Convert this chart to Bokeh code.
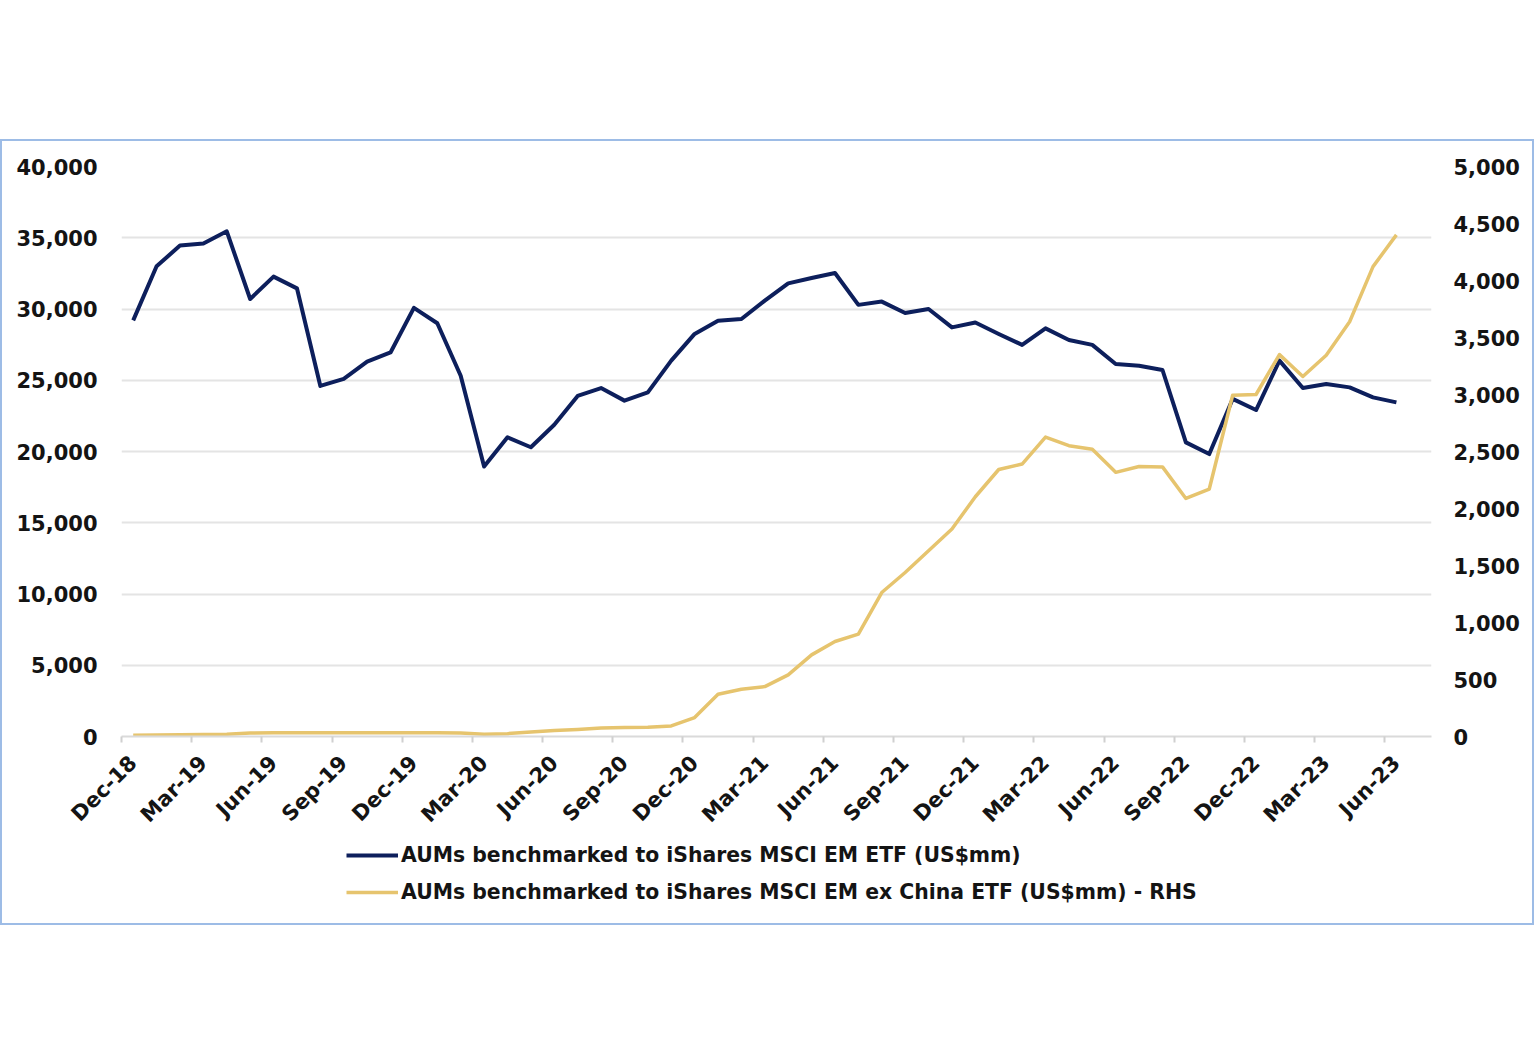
from math import pi
import pandas as pd
from bokeh.plotting import figure
from bokeh.models import (Range1d, LinearAxis, FixedTicker, NumeralTickFormatter,
                          Legend, LegendItem, Spacer, Column)
from bokeh.embed import file_html
from bokeh.resources import INLINE

# ---- data (monthly, Dec-18 .. Jun-23) ----
months = list(pd.date_range("2018-12-01", periods=55, freq="MS").strftime("%b-%y"))
tick_labels = ["Dec-18", "Mar-19", "Jun-19", "Sep-19", "Dec-19", "Mar-20", "Jun-20",
               "Sep-20", "Dec-20", "Mar-21", "Jun-21", "Sep-21", "Dec-21", "Mar-22",
               "Jun-22", "Sep-22", "Dec-22", "Mar-23", "Jun-23"]

em_etf = [29200, 33000, 34450, 34600, 35450, 30700, 32270, 31450, 24600, 25100,
          26300, 26950, 30080, 29000, 25320, 18950, 21000, 20300, 21880, 23900,
          24450, 23570, 24150, 26380, 28250, 29180, 29300, 30590, 31800, 32180,
          32530, 30290, 30520, 29720, 30000, 28710, 29050, 28250, 27480, 28640,
          27830, 27480, 26140, 26020, 25720, 20640, 19820, 23690, 22910, 26380,
          24460, 24740, 24500, 23800, 23450]

em_ex_china = [12, 14, 16, 18, 20, 30, 32, 32, 32, 32,
               32, 32, 33, 33, 30, 20, 25, 40, 52, 62,
               75, 80, 82, 93, 166, 371, 415, 438, 541, 716,
               833, 898, 1263, 1439, 1629, 1820, 2103, 2342, 2390, 2627,
               2551, 2519, 2317, 2368, 2365, 2088, 2171, 2993, 3000, 3350,
               3158, 3345, 3638, 4122, 4400]

left_ticks = list(range(0, 40001, 5000))
right_ticks = list(range(0, 5001, 500))

label_em = "AUMs benchmarked to iShares MSCI EM ETF (US$mm)"
label_exc = "AUMs benchmarked to iShares MSCI EM ex China ETF (US$mm) - RHS"

NAVY = "#0d1f5c"
GOLD = "#e6c46e"
GRID = "#e4e4e4"
TXT = "#141414"
FONT = "DejaVu Sans"
BORDER = "2px solid #9dbce6"

x = list(range(len(months)))
label_pos = [months.index(m) for m in tick_labels]

p = figure(width=1534, height=700, output_backend="svg", toolbar_location=None,
           x_range=Range1d(-0.5, 55.5), y_range=Range1d(0, 40000),
           min_border_left=119, min_border_right=105, min_border_top=25,
           min_border_bottom=105)
p.styles = {"border-top": BORDER, "border-left": BORDER, "border-right": BORDER}
p.outline_line_color = None
p.background_fill_color = "white"
p.border_fill_color = "white"
p.extra_y_ranges = {"rhs": Range1d(0, 5000)}

p.xgrid.grid_line_color = None
p.ygrid.grid_line_color = GRID
p.ygrid.grid_line_width = 2
p.ygrid.ticker = FixedTicker(ticks=left_ticks)

# left axis
ly = p.yaxis[0]
ly.ticker = FixedTicker(ticks=left_ticks)
ly.formatter = NumeralTickFormatter(format="0,0")
ly.axis_line_color = None
ly.major_tick_line_color = None
ly.minor_tick_line_color = None
ly.major_label_standoff = 18
ly.major_label_text_font = FONT
ly.major_label_text_font_style = "bold"
ly.major_label_text_font_size = "21px"
ly.major_label_text_color = TXT

# right axis
ry = LinearAxis(y_range_name="rhs", ticker=FixedTicker(ticks=right_ticks),
                formatter=NumeralTickFormatter(format="0,0"))
ry.axis_line_color = None
ry.major_tick_line_color = None
ry.minor_tick_line_color = None
ry.major_label_standoff = 16
ry.major_label_text_font = FONT
ry.major_label_text_font_style = "bold"
ry.major_label_text_font_size = "21px"
ry.major_label_text_color = TXT
p.add_layout(ry, "right")

# bottom axis
bx = p.xaxis[0]
bx.ticker = FixedTicker(ticks=label_pos, minor_ticks=[t - 0.5 for t in label_pos])
bx.major_label_overrides = {t: lab for t, lab in zip(label_pos, tick_labels)}
bx.major_label_orientation = pi / 4
bx.major_tick_line_color = None
bx.major_tick_out = 0
bx.major_tick_in = 0
bx.minor_tick_out = 6
bx.minor_tick_in = 0
bx.minor_tick_line_color = "#d0d0d0"
bx.minor_tick_line_width = 2
bx.axis_line_color = "#dadada"
bx.axis_line_width = 2
bx.major_label_standoff = 17
bx.major_label_text_font = FONT
bx.major_label_text_font_style = "bold"
bx.major_label_text_font_size = "21px"
bx.major_label_text_color = TXT

r1 = p.line(x, em_etf, line_color=NAVY, line_width=4, line_join="round")
r2 = p.line(x, em_ex_china, y_range_name="rhs", line_color=GOLD, line_width=3.5,
            line_join="round")

# legend strip below the chart, inside the same blue frame; its renderers carry
# the same series but lie outside this strip's (tiny) view, so only the legend shows
lf = figure(width=1534, height=86, output_backend="svg", toolbar_location=None,
            x_range=Range1d(0, 1), y_range=Range1d(0, 1),
            x_axis_location=None, y_axis_location=None,
            min_border_left=0, min_border_right=0, min_border_top=0,
            min_border_bottom=0)
lf.styles = {"border-bottom": BORDER, "border-left": BORDER, "border-right": BORDER}
lf.outline_line_color = None
lf.grid.visible = False
lf.background_fill_color = "white"
lf.border_fill_color = "white"
l1 = lf.line(x, em_etf, line_color=NAVY, line_width=4)
l2 = lf.line(x, em_ex_china, line_color=GOLD, line_width=3.5)

legend = Legend(items=[LegendItem(label=label_em, renderers=[l1]),
                       LegendItem(label=label_exc, renderers=[l2])],
                location=(225, 21), orientation="vertical",
                glyph_width=52, glyph_height=20, label_height=20, spacing=13,
                padding=0, label_standoff=3, margin=0,
                border_line_color=None, background_fill_alpha=0,
                label_text_font=FONT, label_text_font_style="bold",
                label_text_font_size="20.4px", label_text_color=TXT)
lf.add_layout(legend)

layout = Column(Spacer(width=10, height=139), p, lf)
open("out.html", "w").write(file_html(layout, INLINE))
